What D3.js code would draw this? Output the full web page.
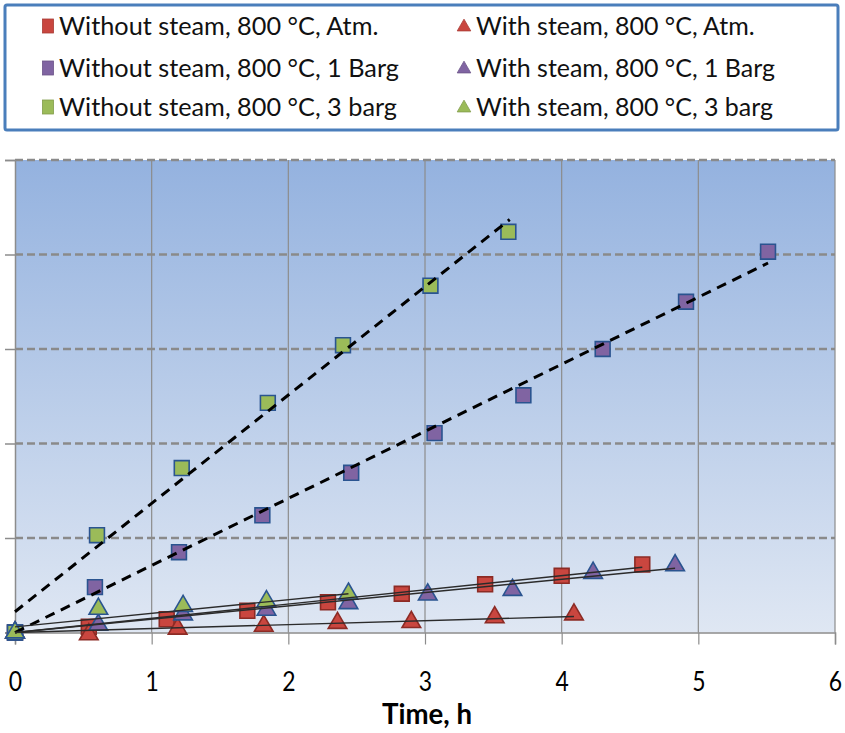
<!DOCTYPE html>
<html>
<head>
<meta charset="utf-8">
<script src="https://cdn.jsdelivr.net/npm/d3@7"></script>
<style>
  body { margin: 0; background: #fff; }
  svg { display: block; font-family: Lato, "Open Sans", sans-serif; }
</style>
</head>
<body>
<div id="chart"></div>
<script>
// series (time in h, y in grid units)
const xTicks = [0, 1, 2, 3, 4, 5, 6];
const yGrid = [0, 1, 2, 3, 4, 5];

const redSqX = [0, 0.54, 1.11, 1.70, 2.29, 2.83, 3.44, 4.00, 4.59];
const redSqY = [0, 0.06, 0.14, 0.23, 0.32, 0.41, 0.51, 0.60, 0.72];

const redTriX = [0, 0.54, 1.19, 1.82, 2.36, 2.90, 3.51, 4.09];
const redTriY = [0, -0.02, 0.04, 0.07, 0.10, 0.11, 0.16, 0.19];

const purSqX = [0, 0.585, 1.20, 1.81, 2.46, 3.07, 3.72, 4.30, 4.91, 5.51];
const purSqY = [0, 0.48, 0.85, 1.24, 1.69, 2.11, 2.51, 3.00, 3.50, 4.03];

const purTriX = [0, 0.61, 1.23, 1.84, 2.44, 3.02, 3.64, 4.23, 4.83];
const purTriY = [0, 0.08, 0.19, 0.24, 0.31, 0.40, 0.45, 0.63, 0.71];

const grnSqX = [0, 0.60, 1.22, 1.85, 2.40, 3.04, 3.61];
const grnSqY = [0, 1.03, 1.74, 2.43, 3.04, 3.67, 4.24];

const grnTriX = [0, 0.61, 1.23, 1.84, 2.44];
const grnTriY = [0, 0.25, 0.28, 0.33, 0.41];

// trend line end points [x0, y0, x1, y1]
const redSqFit = [0, 0, 4.59, 0.69];
const redTriFit = [0, 0, 4.09, 0.17];
const purSqFit = [0, 0, 5.51, 3.91];
const purTriFit = [0, 0, 4.83, 0.68];
const grnSqFit = [0, 0.22, 3.62, 4.37];
const grnTriFit = [0, 0.06, 2.44, 0.41];

const names = [
    "Without steam, 800 °C, Atm.", "With steam, 800 °C, Atm.",
    "Without steam, 800 °C, 1 Barg", "With steam, 800 °C, 1 Barg",
    "Without steam, 800 °C, 3 barg", "With steam, 800 °C, 3 barg"
];

const width = 845;
const height = 733;

const red = "#c9463f", purple = "#8064a2", green = "#9bbb59";
const blueEdge = "#2a5490", redEdge = "#8c2b25";

const series = [
    { name: names[0], xs: redSqX, ys: redSqY, shape: "square", fill: red, edge: redEdge, fit: redSqFit, dashed: false },
    { name: names[1], xs: redTriX, ys: redTriY, shape: "triangle", fill: red, edge: redEdge, fit: redTriFit, dashed: false },
    { name: names[2], xs: purSqX, ys: purSqY, shape: "square", fill: purple, edge: blueEdge, fit: purSqFit, dashed: true },
    { name: names[3], xs: purTriX, ys: purTriY, shape: "triangle", fill: purple, edge: blueEdge, fit: purTriFit, dashed: false },
    { name: names[4], xs: grnSqX, ys: grnSqY, shape: "square", fill: green, edge: blueEdge, fit: grnSqFit, dashed: true },
    { name: names[5], xs: grnTriX, ys: grnTriY, shape: "triangle", fill: green, edge: blueEdge, fit: grnTriFit, dashed: false }
];

const svg = d3.select("#chart")
    .append("svg")
    .attr("width", width)
    .attr("height", height);

const x = d3.scaleLinear().domain([0, 6]).range([15, 835]);
const y = d3.scaleLinear().domain([0, 5]).range([632.5, 160]);

// plot background gradient
const grad = svg.append("defs").append("linearGradient")
    .attr("id", "bg").attr("x1", 0).attr("y1", 0).attr("x2", 0).attr("y2", 1);
grad.append("stop").attr("offset", "0%").attr("stop-color", "#94b2df");
grad.append("stop").attr("offset", "100%").attr("stop-color", "#dfe7f3");

svg.append("rect")
    .attr("x", x(0)).attr("y", y(5))
    .attr("width", x(6) - x(0)).attr("height", y(0) - y(5))
    .attr("fill", "url(#bg)");

// vertical gridlines
svg.selectAll("line.vgrid")
    .data(xTicks.slice(1))
    .enter().append("line")
    .attr("x1", d => x(d)).attr("x2", d => x(d))
    .attr("y1", y(5)).attr("y2", y(0))
    .attr("stroke", "#8c8c8c").attr("stroke-width", 1.2);

// horizontal dashed gridlines
svg.selectAll("line.hgrid")
    .data(yGrid.slice(1))
    .enter().append("line")
    .attr("x1", x(0)).attr("x2", x(6))
    .attr("y1", d => y(d)).attr("y2", d => y(d))
    .attr("stroke", "#8a8a8a").attr("stroke-width", 2.5)
    .attr("stroke-dasharray", "8,4");

// axes
const xAxis = svg.append("g")
    .attr("transform", `translate(0,${y(0)})`)
    .call(d3.axisBottom(x).tickValues(xTicks).tickSize(12).tickFormat(d3.format("d")));
xAxis.select(".domain").attr("stroke", "#8c8c8c").attr("stroke-width", 1.5);
xAxis.selectAll(".tick line").attr("stroke", "#8c8c8c").attr("stroke-width", 1.2);
xAxis.selectAll(".tick text")
    .attr("y", 0).attr("dy", null)
    .attr("transform", "translate(0,58) scale(0.85,1)")
    .attr("font-size", "27px").attr("fill", "#000")
    .style("font-family", "Lato, sans-serif");

const yAxis = svg.append("g")
    .attr("transform", `translate(${x(0)},0)`)
    .call(d3.axisLeft(y).tickValues(yGrid).tickSize(10).tickFormat(""));
yAxis.select(".domain").attr("stroke", "#8c8c8c").attr("stroke-width", 1.5);
yAxis.selectAll(".tick line").attr("stroke", "#8c8c8c").attr("stroke-width", 1.5);

svg.append("text")
    .attr("x", 427).attr("y", 724)
    .attr("text-anchor", "middle")
    .attr("font-size", "28px").attr("font-weight", "bold")
    .attr("textLength", 90).attr("lengthAdjust", "spacingAndGlyphs")
    .text("Time, h");

// markers
const sym = {
    square: d3.symbol().type(d3.symbolSquare).size(220),
    triangle: d3.symbol().type(d3.symbolTriangle).size(150)
};

series.forEach(s => {
    const pts = s.xs.map((v, i) => [v, s.ys[i]]);
    svg.append("g").selectAll("path")
        .data(pts)
        .enter().append("path")
        .attr("d", sym[s.shape])
        .attr("transform", d => `translate(${x(d[0])},${y(d[1])})`)
        .attr("fill", s.fill)
        .attr("stroke", s.edge)
        .attr("stroke-width", 1.6);
});

// trend lines on top
series.forEach(s => {
    const f = s.fit;
    svg.append("line")
        .attr("x1", x(f[0])).attr("y1", y(f[1]))
        .attr("x2", x(f[2])).attr("y2", y(f[3]))
        .attr("stroke", s.dashed ? "#000" : "#2b2b2b")
        .attr("stroke-width", s.dashed ? 3 : 1.4)
        .attr("stroke-dasharray", s.dashed ? "10,7" : null);
});

// legend
const legend = svg.append("g");
legend.append("rect")
    .attr("x", 5).attr("y", 5)
    .attr("width", 833).attr("height", 125)
    .attr("rx", 2)
    .attr("fill", "#fff")
    .attr("stroke", "#4a7ebb").attr("stroke-width", 3);

const rowY = [26, 68, 107];
const colX = [48, 464];
const textX = [59, 476];
const colTarget = [340, 299]; // widest label per column

series.forEach((s, i) => {
    const col = i % 2, row = Math.floor(i / 2);
    if (s.shape === "square") {
        legend.append("rect")
            .attr("x", colX[col] - 5.5).attr("y", rowY[row] - 7)
            .attr("width", 11).attr("height", 14)
            .attr("fill", s.fill).attr("stroke", d3.color(s.fill).darker(0.5)).attr("stroke-width", 0.8);
    } else {
        legend.append("path")
            .attr("d", d3.symbol().type(d3.symbolTriangle).size(80)())
            .attr("transform", `translate(${colX[col]},${rowY[row] + 1})`)
            .attr("fill", s.fill).attr("stroke", d3.color(s.fill).darker(0.5)).attr("stroke-width", 0.8);
    }
    legend.append("text")
        .attr("class", "lg" + col)
        .attr("x", textX[col]).attr("y", rowY[row] + 9)
        .attr("font-size", "25px").attr("fill", "#111")
        .text(s.name);
});

// stretch legend text to the reference width per column
[0, 1].forEach(col => {
    const texts = legend.selectAll("text.lg" + col);
    const widest = d3.max(texts.nodes(), n => n.getComputedTextLength());
    const k = colTarget[col] / widest;
    texts.each(function () {
        d3.select(this).attr("textLength", this.getComputedTextLength() * k)
            .attr("lengthAdjust", "spacingAndGlyphs");
    });
});
</script>
</body>
</html>
